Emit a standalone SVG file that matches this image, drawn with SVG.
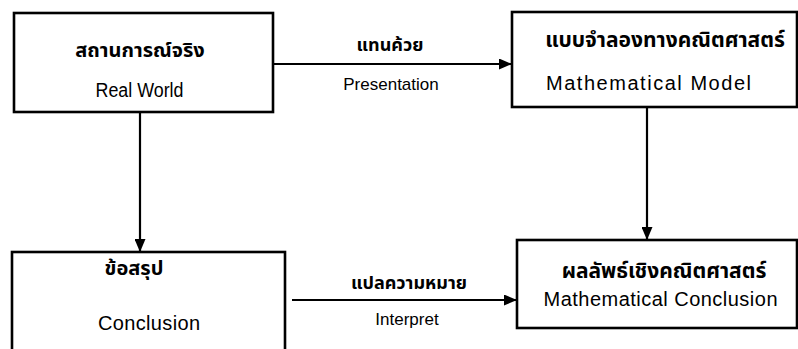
<svg xmlns="http://www.w3.org/2000/svg" width="798" height="349" viewBox="0 0 798 349">
  <style>
    .box { fill: #ffffff; stroke: #000000; stroke-width: 2.6; }
    .link { fill: none; stroke: #000000; stroke-width: 2.2; }
    .th { font-family: "Noto Sans Thai", "Noto Sans Thai Looped", "DejaVu Sans", sans-serif; font-size: 20px; font-weight: bold; fill: #000; text-anchor: middle; }
    .en { font-family: "Liberation Sans", Arial, sans-serif; font-size: 20px; fill: #000; text-anchor: middle; }
    .th-l { font-size: 21px; }
    .th-s { font-size: 18px; }
    .en-s { font-size: 17px; }
  </style>
  <defs>
    <marker id="head" markerWidth="13" markerHeight="11" refX="12" refY="5.5" orient="auto" markerUnits="userSpaceOnUse">
      <path d="M0,0 L13,5.5 L0,11 Z" fill="#000000"/>
    </marker>
  </defs>

  <rect width="798" height="349" fill="#ffffff"/>

  <g id="connectors">
    <line class="link" x1="273" y1="64" x2="511" y2="64" marker-end="url(#head)"/>
    <line class="link" x1="140" y1="112" x2="140" y2="251" marker-end="url(#head)"/>
    <line class="link" x1="647" y1="107" x2="647" y2="239" marker-end="url(#head)"/>
    <line class="link" x1="292" y1="300" x2="516" y2="300" marker-end="url(#head)"/>
    <text class="th th-s" x="390" y="51">แทนค้วย</text>
    <text class="en en-s" x="391" y="90">Presentation</text>
    <text class="th th-s" x="409" y="289">แปลความหมาย</text>
    <text class="en en-s" x="407" y="325">Interpret</text>
  </g>

  <g id="real-world">
    <rect class="box" x="14" y="13" width="259" height="99"/>
    <text class="th" x="140" y="57">สถานการณ์จริง</text>
    <text class="en" x="139.5" y="97" textLength="88" lengthAdjust="spacingAndGlyphs">Real World</text>
  </g>

  <g id="mathematical-model">
    <rect class="box" x="512" y="12" width="285" height="95"/>
    <text class="th th-l" x="665" y="47">แบบจำลองทางคณิตศาสตร์</text>
    <text class="en" x="648.5" y="90" textLength="205">Mathematical Model</text>
  </g>

  <g id="conclusion">
    <rect class="box" x="12" y="252" width="273" height="110"/>
    <text class="th" x="134" y="275">ข้อสรุป</text>
    <text class="en" x="149" y="330" textLength="102">Conclusion</text>
  </g>

  <g id="mathematical-conclusion">
    <rect class="box" x="517" y="240" width="280" height="88"/>
    <text class="th th-l" x="664" y="278">ผลลัพธ์เชิงคณิตศาสตร์</text>
    <text class="en" x="660.5" y="306" textLength="234">Mathematical Conclusion</text>
  </g>
</svg>
